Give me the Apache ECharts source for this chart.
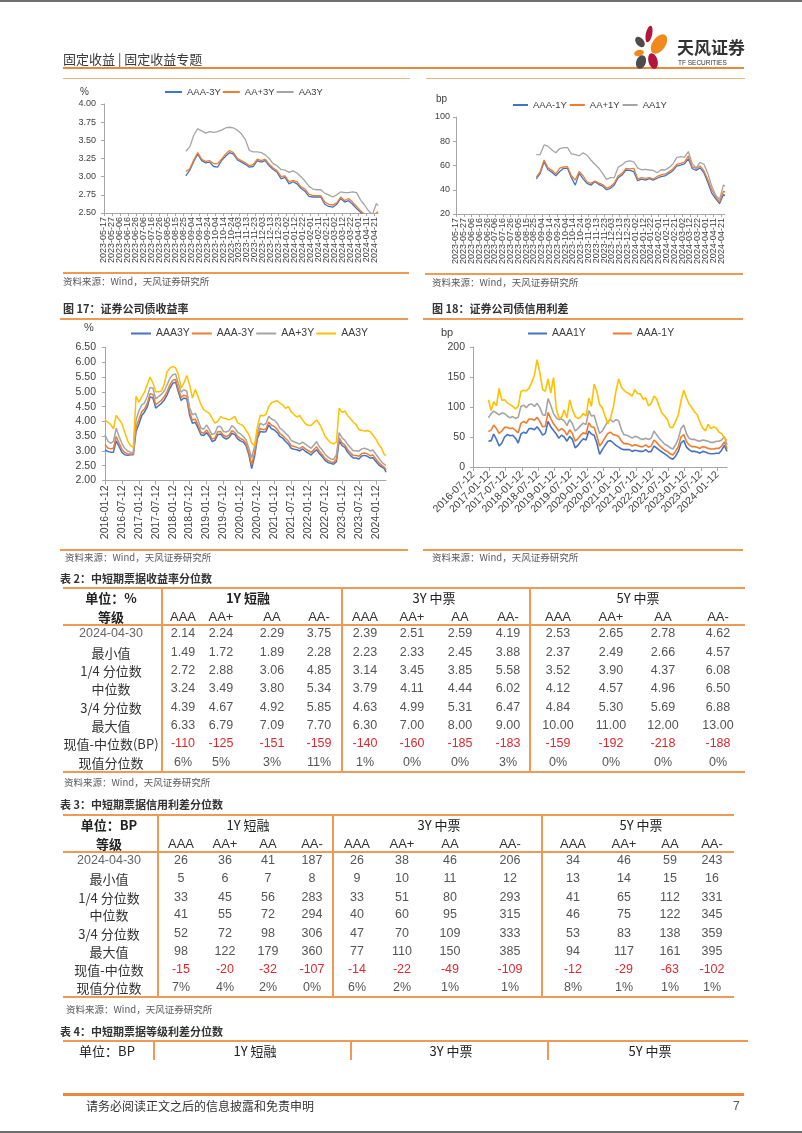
<!DOCTYPE html>
<html><head><meta charset="utf-8">
<script src="https://cdn.jsdelivr.net/npm/echarts@6/dist/echarts.min.js"></script>
<style>
html,body{margin:0;padding:0;background:#fff;}
#page{position:relative;width:802px;height:1133px;overflow:hidden;background:#fff;font-family:"Noto Sans CJK SC","Liberation Sans",sans-serif;}
#chart{position:absolute;left:0;top:0;width:802px;height:1133px;}
#ov{position:absolute;left:0;top:0;width:802px;height:1133px;pointer-events:none;}
.t{position:absolute;white-space:nowrap;line-height:1;}
.ln{position:absolute;}
</style></head>
<body><div id="page"><div id="chart"></div><div id="ov"></div></div>
<script>
// ================= DATA =================
// Top-left: 中短票据收益率 (%), top-right: 信用利差 (bp); sample dates
const topSampleDates = ['2023-08-28','2023-09-02','2023-09-07','2023-09-12','2023-09-17','2023-09-22','2023-09-27','2023-10-02','2023-10-07','2023-10-12','2023-10-17','2023-10-22','2023-10-27','2023-11-01','2023-11-06','2023-11-11','2023-11-16','2023-11-21','2023-11-26','2023-12-01','2023-12-06','2023-12-11','2023-12-16','2023-12-21','2023-12-26','2023-12-31','2024-01-05','2024-01-10','2024-01-15','2024-01-20','2024-01-25','2024-01-30','2024-02-04','2024-02-09','2024-02-14','2024-02-19','2024-02-24','2024-02-29','2024-03-05','2024-03-10','2024-03-15','2024-03-20','2024-03-25','2024-03-30','2024-04-04','2024-04-09','2024-04-14','2024-04-19','2024-04-24','2024-04-26'];
const yAAAm3Y = [3.01,3.09,3.21,3.31,3.22,3.19,3.20,3.14,3.13,3.22,3.28,3.33,3.31,3.23,3.20,3.17,3.13,3.14,3.22,3.20,3.22,3.15,3.10,3.06,2.97,2.99,2.90,2.93,2.90,2.84,2.80,2.73,2.72,2.72,2.72,2.62,2.59,2.58,2.62,2.70,2.65,2.67,2.62,2.56,2.51,2.46,2.42,2.40,2.44,2.46];
const yAAp3Y = [3.07,3.11,3.23,3.33,3.24,3.21,3.22,3.18,3.18,3.24,3.31,3.36,3.33,3.25,3.22,3.19,3.15,3.17,3.24,3.22,3.24,3.17,3.12,3.08,3.00,3.01,2.93,2.95,2.93,2.86,2.83,2.76,2.74,2.74,2.74,2.65,2.62,2.61,2.64,2.72,2.67,2.70,2.65,2.59,2.53,2.48,2.44,2.43,2.50,2.52];
const yAA3Y = [3.35,3.41,3.57,3.66,3.63,3.60,3.62,3.61,3.62,3.64,3.67,3.68,3.67,3.64,3.59,3.51,3.36,3.34,3.34,3.33,3.30,3.25,3.18,3.15,3.10,3.09,3.06,3.08,3.05,3.00,2.94,2.87,2.83,2.82,2.82,2.77,2.75,2.72,2.75,2.79,2.78,2.78,2.79,2.78,2.68,2.61,2.53,2.48,2.63,2.60];
const sAAAm1Y = [49,53.5,63,56.5,54.5,51.5,55,57.7,57.7,50,43.8,53.5,49,45.3,43.8,46.6,44.5,43,40,41.2,44,50,52.2,56.3,56,54.9,47.5,48.8,48,49.2,48,49.5,50.8,51.4,53.5,55.5,59.5,60.4,61.4,65.5,57.5,56,58,54,46,37.2,32.7,28.5,36,35];
const sAAp1Y = [50.5,55,64.5,58,56,53,57.8,58.8,59,51.5,48,55,51.5,46.6,45.3,47.2,45.7,44.3,41.4,42.5,45.5,51.5,53.5,57.6,57.3,57.7,49,50,49.4,50,48.8,51,52.2,52.8,54.9,57,61,61.8,62.8,68,59,57.5,59.6,55.5,48.5,40,34.2,29.8,39,38];
const sAA1Y = [69,69,77,76,72.8,70.5,74,74.7,74.7,69.5,69,68,70.5,68.5,64.5,61,58,53.5,48.5,50,50,58.5,60.5,63.2,63.8,63,58,56.5,56.8,56.3,56,54,56.5,56.3,58.2,61,66.5,67.3,66.7,71.5,61.5,58,62.5,61,53.5,43,35.5,32,44,43];

// 图17 证券公司债收益率 (%), monthly on the 12th from 2016-01 to 2024-04, plus 2024-04-30
const c17AAA3Y = [3.04,2.98,2.96,2.96,3.34,3.15,2.95,2.87,2.85,2.87,2.87,3.66,
3.91,4.20,4.31,4.49,4.83,4.79,4.45,4.53,4.61,4.72,4.90,5.12,
5.29,5.33,5.01,4.71,4.79,4.76,4.22,3.94,3.97,3.77,3.55,3.52,
3.62,3.49,3.32,3.36,3.55,3.57,3.46,3.40,3.46,3.60,3.55,3.41,
3.34,3.30,3.18,2.87,2.40,2.81,3.41,3.66,3.64,3.65,3.88,3.75,
3.71,3.62,3.49,3.43,3.32,3.23,3.09,3.06,3.04,3.00,3.07,2.99,
2.93,2.86,2.96,3.04,2.91,2.80,2.68,2.61,2.58,2.55,2.64,3.34,
3.18,3.12,2.96,2.85,2.76,2.76,2.73,2.83,2.85,2.82,2.76,2.77,
2.64,2.53,2.46,2.40,2.28];
const c17AAAm3Y = [3.22,3.10,3.07,3.09,3.49,3.27,3.06,2.95,2.90,2.90,2.89,3.80,
4.07,4.33,4.42,4.61,4.94,4.91,4.56,4.64,4.72,4.83,5.02,5.24,
5.39,5.42,5.11,4.81,4.89,4.85,4.31,4.04,4.08,3.87,3.63,3.60,
3.71,3.57,3.40,3.44,3.65,3.66,3.53,3.48,3.54,3.69,3.63,3.49,
3.42,3.37,3.25,2.95,2.53,2.93,3.49,3.76,3.72,3.74,3.98,3.87,
3.83,3.73,3.59,3.52,3.42,3.33,3.18,3.15,3.12,3.08,3.15,3.07,
3.01,2.94,3.04,3.14,2.99,2.88,2.75,2.68,2.63,2.61,2.72,3.44,
3.27,3.20,3.05,2.94,2.85,2.85,2.82,2.91,2.93,2.90,2.84,2.86,
2.73,2.61,2.52,2.45,2.36];
const c17AAp3Y = [3.55,3.33,3.26,3.32,3.77,3.49,3.26,3.09,3.00,2.96,2.93,4.05,
4.36,4.56,4.62,4.84,5.15,5.12,4.76,4.84,4.92,5.03,5.24,5.46,
5.58,5.60,5.29,4.99,5.07,5.03,4.47,4.22,4.27,4.05,3.77,3.74,
3.88,3.71,3.55,3.60,3.83,3.83,3.66,3.64,3.69,3.86,3.77,3.64,
3.58,3.49,3.38,3.09,2.76,3.15,3.64,3.94,3.88,3.92,4.17,4.08,
4.04,3.94,3.77,3.70,3.60,3.51,3.36,3.31,3.27,3.23,3.30,3.23,
3.16,3.09,3.19,3.32,3.14,3.03,2.89,2.80,2.73,2.71,2.87,3.62,
3.44,3.36,3.23,3.12,3.01,3.01,2.99,3.07,3.09,3.06,3.00,3.03,
2.89,2.76,2.63,2.55,2.51];
const c17AA3Y = [4.05,3.97,3.90,3.75,4.20,4.06,3.93,3.63,3.35,3.18,3.12,4.85,
4.65,4.84,4.98,5.25,5.50,5.30,5.00,5.00,5.03,5.26,5.68,5.80,
5.86,5.81,5.60,5.13,5.30,5.55,5.25,4.79,5.08,4.83,4.57,4.40,
4.33,4.27,4.10,3.94,4.00,4.16,4.11,4.09,4.05,4.10,4.17,3.96,
3.90,3.85,3.70,3.55,3.27,3.18,3.80,4.20,4.19,4.23,4.50,4.63,
4.67,4.70,4.62,4.56,4.44,4.50,4.33,4.23,4.15,4.20,4.05,3.92,
3.87,3.86,3.95,4.05,3.92,3.73,3.50,3.38,3.28,3.24,3.30,4.45,
4.31,4.35,4.20,4.10,3.98,3.89,3.72,3.70,3.67,3.69,3.65,3.53,
3.40,3.22,3.10,2.87,2.85];

// 图18 证券公司债信用利差 (bp), monthly on the 1st from 2017-01 to 2024-04, plus 2024-04-30
const c18AAA1Y = [43,44,55,46,35,40,50,54,52,53,48,40,
55,58,56,64,64,62,67,61,53,56,76,67,
61,55,48,53,50,43,51,46,32,36,42,47,
45,60,55,53,40,21,29,36,43,44,40,36,
33,30,29,29,29,26,28,27,26,26,29,25,
26,35,32,28,25,22,19,15,13,18,26,40,
44,33,29,26,26,25,23,26,25,23,22,22,
23,23,28,36,26];
const c18AAAm1Y = [59,62,70,64,56,60,66,66,64,65,61,57,
73,76,73,80,80,78,83,76,67,68,91,81,
72,66,60,64,61,53,62,56,43,47,53,57,
55,74,67,66,52,35,41,49,56,58,54,53,
51,43,39,39,38,35,37,36,34,34,37,33,
35,45,41,36,32,28,26,22,20,26,34,50,
54,42,37,34,34,33,31,34,33,31,30,30,
31,31,35,42,30];
const c18AAp1Y = [82,89,93,90,87,90,89,85,82,84,81,83,
101,103,99,104,105,101,106,99,87,86,114,103,
89,82,79,80,77,69,79,72,60,64,69,73,
71,94,85,86,71,56,60,68,76,79,75,79,
77,62,54,53,51,48,51,50,47,46,48,46,
48,60,54,48,43,38,36,32,30,37,47,64,
70,55,48,46,46,44,43,45,44,43,41,41,
43,43,45,51,37];
const c18AA1Y = [112,94,109,102,131,111,112,107,104,101,97,101,
126,128,127,131,141,153,179,157,129,126,147,123,
149,97,82,82,95,82,112,96,84,81,83,89,
85,115,101,138,126,104,99,85,72,81,99,126,
147,133,128,124,122,118,129,122,122,113,115,102,
106,118,114,101,90,85,79,66,66,76,87,110,
128,115,105,99,92,87,75,65,60,71,64,67,
65,58,56,48,44];

// Tables
const gradeNames = ['AAA','AA+','AA','AA-','AAA','AA+','AA','AA-','AAA','AA+','AA','AA-'];
const tenorHeads = ['1Y 短融','3Y 中票','5Y 中票'];
const rowLabels = ['2024-04-30','最小值','1/4 分位数','中位数','3/4 分位数','最大值','现值-中位数','现值分位数'];
const t2Rows = [
 ['2.14','2.24','2.29','3.75','2.39','2.51','2.59','4.19','2.53','2.65','2.78','4.62'],
 ['1.49','1.72','1.89','2.28','2.23','2.33','2.45','3.88','2.37','2.49','2.66','4.57'],
 ['2.72','2.88','3.06','4.85','3.14','3.45','3.85','5.58','3.52','3.90','4.37','6.08'],
 ['3.24','3.49','3.80','5.34','3.79','4.11','4.44','6.02','4.12','4.57','4.96','6.50'],
 ['4.39','4.67','4.92','5.85','4.63','4.99','5.31','6.47','4.84','5.30','5.69','6.88'],
 ['6.33','6.79','7.09','7.70','6.30','7.00','8.00','9.00','10.00','11.00','12.00','13.00'],
 ['-110','-125','-151','-159','-140','-160','-185','-183','-159','-192','-218','-188'],
 ['6%','5%','3%','11%','1%','0%','0%','3%','0%','0%','0%','0%']];
const t3Rows = [
 ['26','36','41','187','26','38','46','206','34','46','59','243'],
 ['5','6','7','8','9','10','11','12','13','14','15','16'],
 ['33','45','56','283','33','51','80','293','41','65','112','331'],
 ['41','55','72','294','40','60','95','315','46','75','122','345'],
 ['52','72','98','306','47','70','109','333','53','83','138','359'],
 ['98','122','179','360','77','110','150','385','94','117','161','395'],
 ['-15','-20','-32','-107','-14','-22','-49','-109','-12','-29','-63','-102'],
 ['7%','4%','2%','0%','6%','2%','1%','1%','8%','1%','1%','1%']];

// ================= HELPERS =================
function pd(s){return Date.UTC(+s.slice(0,4),+s.slice(5,7)-1,+s.slice(8,10));}
function fd(t){return new Date(t).toISOString().slice(0,10);}
function dayRange(s,e){const a=[];for(let t=pd(s);t<=pd(e);t+=864e5)a.push(fd(t));return a;}
function monthly(y,m,d,n){const a=[];for(let i=0;i<n;i++){const yy=y+Math.floor((m-1+i)/12),mm=(m-1+i)%12+1;a.push(yy+'-'+String(mm).padStart(2,'0')+'-'+String(d).padStart(2,'0'));}return a;}
const topDays = dayRange('2023-05-17','2024-04-26');
const c17Days = dayRange('2016-01-12','2024-04-30');
const c18Days = dayRange('2016-07-12','2024-04-30');
const c17Dates = monthly(2016,1,12,100).concat(['2024-04-30']);
const c18Dates = monthly(2017,1,1,88).concat(['2024-04-30']);
function pairs(cats,dates,vals){const idx={};cats.forEach((c,i)=>idx[c]=i);return dates.map((d,i)=>[idx[d],vals[i]]);}

const NUM='"Liberation Sans",Arial,sans-serif';
const BLUE='#4472C4',ORANGE='#ED7D31',GRAY='#A5A5A5',YELLOW='#FFC000';
const AX='#A6A6A6',LBL='#404040';
const halfYear=(i,v)=>/-(01|07)-12$/.test(v);

function xCat(grid,data,opt){return Object.assign({type:'category',gridIndex:grid,data:data,boundaryGap:false,position:'bottom',
  axisLine:{show:true,lineStyle:{color:AX,width:1}},
  axisTick:{show:true,length:3,lineStyle:{color:AX}},
  splitLine:{show:false}},opt);}
function yVal(grid,min,max,iv,fs,dec,margin){return {type:'value',gridIndex:grid,min:min,max:max,interval:iv,
  axisLine:{show:true,lineStyle:{color:AX,width:1}},axisTick:{show:true,length:3,lineStyle:{color:AX}},
  splitLine:{show:false},
  axisLabel:{fontSize:fs,color:LBL,fontFamily:NUM,margin:margin,showMinLabel:true,showMaxLabel:true,formatter:v=>v.toFixed(dec)}};}
function ln(name,x,y,data,color,w){return {name:name,type:'line',xAxisIndex:x,yAxisIndex:y,data:data,
  showSymbol:false,symbol:'none',lineStyle:{width:w,color:color},itemStyle:{color:color},animation:false,z:3};}
function lg(left,top,items,fs,iw,gap){return {left:left,top:top,padding:0,itemGap:gap,itemWidth:iw,itemHeight:2,icon:'rect',
  data:items.map(a=>({name:a[0],itemStyle:{color:a[1]}})),textStyle:{fontSize:fs,color:LBL,fontFamily:NUM},selectedMode:false};}
// the 10-day labels of the top charts are split over two overlaid axes (even / odd labels) so they never collide
const evenLbl=(i)=>i%20===0, oddLbl=(i)=>i%20===10;
function topLabel(fn){return {interval:fn,rotate:90,fontSize:9,color:LBL,fontFamily:NUM,margin:4,showMinLabel:true};}
function topMain(g){return xCat(g,topDays,{axisTick:{show:true,interval:9,length:3,lineStyle:{color:AX}},axisLabel:topLabel(evenLbl)});}
function topAux(g){return xCat(g,topDays,{axisLine:{show:false},axisTick:{show:false},axisLabel:topLabel(oddLbl)});}

const chart=echarts.init(document.getElementById('chart'),null,{renderer:'canvas'});
chart.setOption({
  animation:false,
  grid:[
    {left:104,top:104,width:274,height:109,outerBoundsMode:'none'},
    {left:456,top:117,width:269,height:97,outerBoundsMode:'none'},
    {left:105,top:347.5,width:281,height:133,outerBoundsMode:'none'},
    {left:473,top:347,width:254,height:120,outerBoundsMode:'none'}
  ],
  xAxis:[
    topMain(0),
    topMain(1),
    xCat(2,c17Days,{axisTick:{show:true,interval:halfYear,length:4,lineStyle:{color:AX}},axisLabel:{interval:halfYear,rotate:90,fontSize:10.5,color:LBL,fontFamily:NUM,margin:5,showMinLabel:true}}),
    xCat(3,c18Days,{axisTick:{show:true,interval:halfYear,length:4,lineStyle:{color:AX}},axisLabel:{interval:halfYear,rotate:45,fontSize:10.5,color:LBL,fontFamily:NUM,margin:6,showMinLabel:true}}),
    topAux(0),
    topAux(1)
  ],
  yAxis:[
    yVal(0,2.5,4.0,0.25,9,2,8),
    yVal(1,20,100,20,9,0,6),
    yVal(2,2.0,6.5,0.5,10.5,2,9),
    yVal(3,0,200,50,10.5,0,8)
  ],
  legend:[
    lg(165,87,[['AAA-3Y',BLUE],['AA+3Y',ORANGE],['AA3Y',GRAY]],9.5,17,2),
    lg(513,100,[['AAA-1Y',BLUE],['AA+1Y',ORANGE],['AA1Y',GRAY]],9.5,15,3),
    lg(131,328,[['AAA3Y',BLUE],['AAA-3Y',ORANGE],['AA+3Y',GRAY],['AA3Y',YELLOW]],10.5,20,2),
    lg(528,328,[['AAA1Y',BLUE],['AAA-1Y',ORANGE]],10.5,19,27)
  ],
  graphic:[
    {type:'text',left:80,top:87,style:{text:'%',fontSize:10,fill:LBL,fontFamily:NUM}},
    {type:'text',left:436,top:94,style:{text:'bp',fontSize:10,fill:LBL,fontFamily:NUM}},
    {type:'text',left:84,top:322,style:{text:'%',fontSize:11,fill:LBL,fontFamily:NUM}},
    {type:'text',left:441,top:327,style:{text:'bp',fontSize:11,fill:LBL,fontFamily:NUM}}
  ],
  series:[
    ln('AAA-3Y',0,0,pairs(topDays,topSampleDates,yAAAm3Y),BLUE,1.3),
    ln('AA+3Y',0,0,pairs(topDays,topSampleDates,yAAp3Y),ORANGE,1.3),
    ln('AA3Y',0,0,pairs(topDays,topSampleDates,yAA3Y),GRAY,1.3),
    ln('AAA-1Y',1,1,pairs(topDays,topSampleDates,sAAAm1Y),BLUE,1.3),
    ln('AA+1Y',1,1,pairs(topDays,topSampleDates,sAAp1Y),ORANGE,1.3),
    ln('AA1Y',1,1,pairs(topDays,topSampleDates,sAA1Y),GRAY,1.3),
    ln('AAA3Y',2,2,pairs(c17Days,c17Dates,c17AAA3Y),BLUE,1.5),
    ln('AAA-3Y',2,2,pairs(c17Days,c17Dates,c17AAAm3Y),ORANGE,1.5),
    ln('AA+3Y',2,2,pairs(c17Days,c17Dates,c17AAp3Y),GRAY,1.5),
    ln('AA3Y',2,2,pairs(c17Days,c17Dates,c17AA3Y),YELLOW,1.5),
    ln('AAA1Y',3,3,pairs(c18Days,c18Dates,c18AAA1Y),BLUE,1.6),
    ln('AAA-1Y',3,3,pairs(c18Days,c18Dates,c18AAAm1Y),ORANGE,1.6),
    ln('AA+1Y',3,3,pairs(c18Days,c18Dates,c18AAp1Y),GRAY,1.6),
    ln('AA1Y',3,3,pairs(c18Days,c18Dates,c18AA1Y),YELLOW,1.6)
  ]
});

// ================= PAGE TEXT / TABLES =================
const ov=document.getElementById('ov');
const OR='#EE9A55';
function T(txt,x,y,o){o=o||{};const d=document.createElement('div');d.className='t';d.textContent=txt;
  d.style.left=x+'px';d.style.top=y+'px';d.style.fontSize=(o.s||12)+'px';d.style.color=o.c||'#333';
  if(o.b)d.style.fontWeight='bold';if(o.f)d.style.fontFamily=o.f;
  d.style.transform=(o.a==='c'?'translate(-50%,-50%)':'translate(0,-50%)');ov.appendChild(d);}
function H(x1,x2,y,h,c){const d=document.createElement('div');d.className='ln';d.style.left=x1+'px';d.style.top=(y-h/2)+'px';d.style.width=(x2-x1)+'px';d.style.height=h+'px';d.style.background=c||OR;ov.appendChild(d);}
function V(x,y1,y2,w,c){const d=document.createElement('div');d.className='ln';d.style.left=(x-w/2)+'px';d.style.top=y1+'px';d.style.width=w+'px';d.style.height=(y2-y1)+'px';d.style.background=c||OR;ov.appendChild(d);}

// borders
H(0,802,1,2,'#6E6E6E');H(0,802,1132,2,'#6E6E6E');
// header
T('固定收益 | 固定收益专题',63,58,{s:13,c:'#3a3a3a'});
H(63,744,68,2,'#E9883A');
ov.insertAdjacentHTML('beforeend','<svg style="position:absolute;left:0;top:0" width="802" height="80">'+
 '<ellipse cx="649" cy="34" rx="3.2" ry="8.5" transform="rotate(12 649 34)" fill="#B3163C"/>'+
 '<ellipse cx="659" cy="44" rx="6.5" ry="11" transform="rotate(35 659 44)" fill="#EF8A1F"/>'+
 '<ellipse cx="640" cy="42" rx="3.8" ry="6" transform="rotate(-40 640 42)" fill="#4C4C4C"/>'+
 '<ellipse cx="639" cy="53" rx="5" ry="3" transform="rotate(-15 639 53)" fill="#EF8A1F"/>'+
 '<ellipse cx="641" cy="62" rx="4.8" ry="7" transform="rotate(20 641 62)" fill="#4C4C4C"/>'+
 '<ellipse cx="653" cy="61" rx="4.6" ry="8" transform="rotate(-15 653 61)" fill="#B3163C"/></svg>');
T('天风证券',677,46,{s:17,b:1,c:'#333'});
T('TF SECURITIES',678,63,{s:6.5,c:'#333',f:'"Liberation Sans Narrow","Liberation Sans",sans-serif'});
H(63,410,78,1,'#F2B27A');H(426,745,78,1,'#F2B27A');

// chart captions / sources
const SRC='资料来源：Wind，天风证券研究所';
H(63,409,273,1.2);T(SRC,63,282,{s:9.5,c:'#595959'});
H(425,743,274,1.2);T(SRC,432,283,{s:9.5,c:'#595959'});
T('图 17：证券公司债收益率',63,308,{s:11,b:1,c:'#333'});H(60,408,319,1.5);
T('图 18：证券公司债信用利差',432,308,{s:11,b:1,c:'#333'});H(423,743,319,1.5);
H(60,408,550,1.2);T(SRC,65,558,{s:9.5,c:'#595959'});
H(423,743,550,1.2);T(SRC,432,558,{s:9.5,c:'#595959'});

const NAR='"Liberation Sans Narrow","Liberation Sans",sans-serif';
function table(cfg){
  T(cfg.caption,60,cfg.capY,{s:11,b:1,c:'#333'});
  H(63,cfg.right,cfg.top,2);H(63,cfg.right,cfg.headLine,1.5);H(63,cfg.right,cfg.bottom,2);
  cfg.vx.forEach(x=>V(x,cfg.top,cfg.bottom,1.2));
  T(cfg.unit,cfg.labX,cfg.h1,{s:13,b:1,c:'#222',a:'c'});
  tenorHeads.forEach((h,i)=>T(h,cfg.headX[i],cfg.h1,{s:13,b:(i===0&&cfg.boldFirst)?1:0,c:'#222',a:'c'}));
  T('等级',cfg.labX,cfg.h2,{s:13,b:1,c:'#222',a:'c'});
  gradeNames.forEach((g,i)=>T(g,cfg.cols[i],cfg.h2,{s:13,c:'#333',a:'c',f:NAR}));
  rowLabels.forEach((r,j)=>{
    const lab=(j===6&&cfg.bpLabel)?'现值-中位数(BP)':r;
    T(lab,cfg.labX,cfg.rows[j],{s:j===0?12.5:13,c:j===0?'#666':'#333',a:'c',f:j===0?NAR:undefined});
    cfg.data[j].forEach((v,i)=>T(v,cfg.cols[i],cfg.rows[j],{s:12.5,c:j===6?'#E0282E':'#555',a:'c',f:NAR}));
  });
}
table({caption:'表 2：中短期票据收益率分位数',capY:578,top:588,headLine:625,bottom:772,right:745,vx:[162,342,530],
  unit:'单位：%',labX:111,headX:[248,434,638],h1:597,h2:616,boldFirst:true,bpLabel:true,
  cols:[183,221,272,319,365,412,460,508,558,611,663,718],rows:[633,652,670,688,707,725,743,762],data:t2Rows});
T(SRC,64,783,{s:9.5,c:'#595959'});
table({caption:'表 3：中短期票据信用利差分位数',capY:804,top:815,headLine:852,bottom:997,right:734,vx:[158,333,542],
  unit:'单位：BP',labX:109,headX:[248,439,641],h1:824,h2:843,boldFirst:false,bpLabel:false,
  cols:[181,225,268,312,357,402,450,510,573,624,670,712],rows:[860,878,897,914,933,951,969,987],data:t3Rows});
T(SRC,66,1010,{s:9.5,c:'#595959'});
// table 4 (header only visible)
T('表 4：中短期票据等级利差分位数',60,1031,{s:11,b:1,c:'#333'});
H(63,748,1041,2);[154,351,548].forEach(x=>V(x,1041,1060,1.2));
T('单位：BP',107,1050,{s:13,c:'#222',a:'c'});
tenorHeads.forEach((h,i)=>T(h,[255,451,650][i],1050,{s:13,c:'#222',a:'c'}));
// footer
H(63,744,1094,3,'#E9883A');
T('请务必阅读正文之后的信息披露和免责申明',86,1106,{s:12,c:'#333'});
T('7',733,1106,{s:12,c:'#555',f:NUM});
</script></body></html>
